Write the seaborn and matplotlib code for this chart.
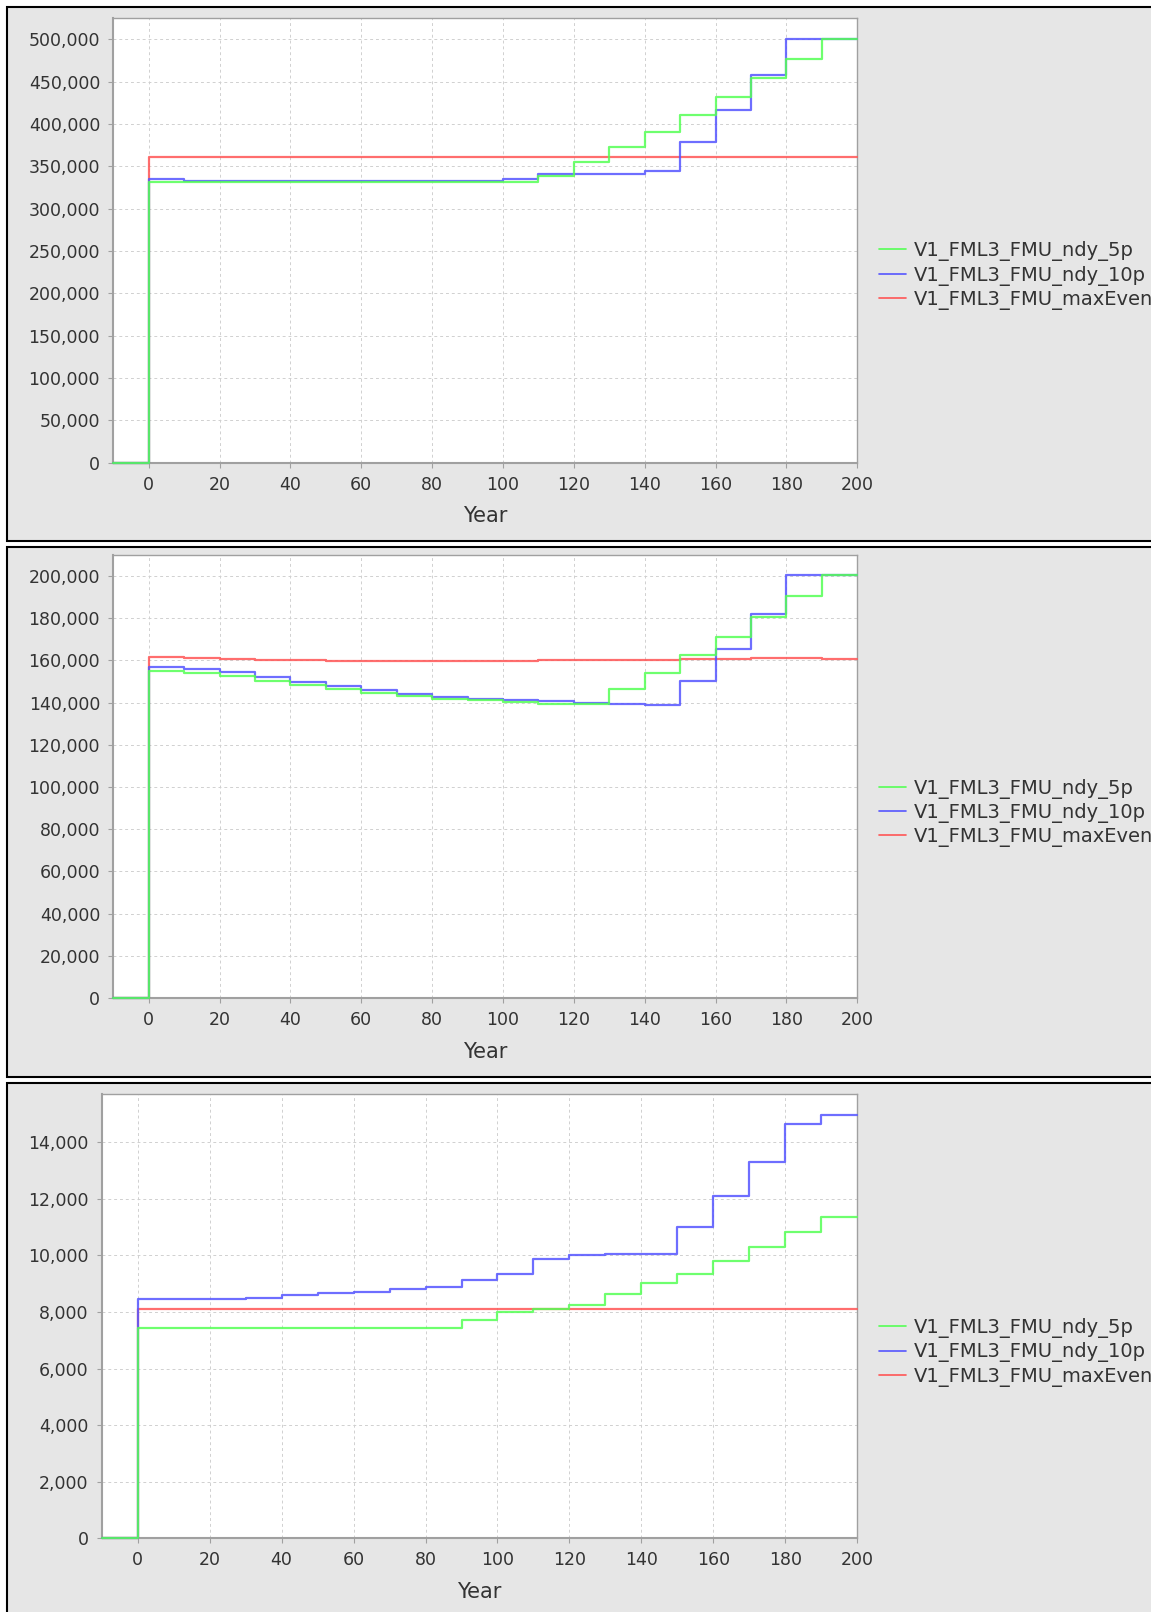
import matplotlib
matplotlib.use("Agg")
import matplotlib.pyplot as plt
import seaborn as sns
import pandas as pd
from matplotlib.patches import Rectangle
from matplotlib.lines import Line2D
from matplotlib.ticker import FuncFormatter, MultipleLocator

# ---- data -------------------------------------------------------------
years = [-10, 0, 10, 20, 30, 40, 50, 60, 70, 80, 90, 100,
         110, 120, 130, 140, 150, 160, 170, 180, 190, 200]

S5 = "V1_FML3_FMU_ndy_5p"
S10 = "V1_FML3_FMU_ndy_10p"
SMAX = "V1_FML3_FMU_maxEven"

# panel 1
p1_5p = [0, 332000, 332000, 332000, 332000, 332000, 332000, 332000, 332000,
         332000, 332000, 332000, 338500, 355000, 373000, 391000, 411000,
         431500, 454000, 477000, 500000, 500000]
p1_10p = [0, 334500, 333000, 333000, 333000, 333000, 333000, 333000, 333000,
          333000, 333000, 335000, 340500, 340500, 340500, 344000, 379000,
          417000, 458500, 501000, 501000, 501000]
p1_max = [0, 361200, 361000, 360800, 360700, 360700, 360800, 360800, 360800,
          360900, 361000, 361000, 361000, 361000, 361000, 361100, 361200,
          361200, 361200, 361200, 360900, 360900]

# panel 2
p2_5p = [0, 154900, 154100, 152500, 150300, 148300, 146400, 144600, 143100,
         141800, 141200, 140200, 139400, 139400, 146400, 154000, 162500,
         171100, 180800, 190500, 200300, 200300]
p2_10p = [0, 156800, 156000, 154400, 152200, 150000, 147900, 146000, 144300,
          142900, 141800, 141200, 140700, 140000, 139400, 139100, 150500,
          165500, 182200, 200500, 200500, 200500]
p2_max = [0, 161500, 161200, 160700, 160300, 160100, 159800, 159800, 159800,
          159800, 159700, 159600, 160000, 160100, 160300, 160400, 160800,
          160900, 161300, 161400, 160600, 160600]

# panel 3
p3_5p = [0, 7430, 7430, 7430, 7430, 7430, 7430, 7430, 7430, 7430, 7720,
         7990, 8090, 8230, 8620, 9010, 9330, 9810, 10300, 10830, 11360, 11360]
p3_10p = [0, 8440, 8450, 8470, 8500, 8580, 8660, 8700, 8800, 8870, 9110,
          9340, 9880, 10000, 10040, 10050, 10990, 12080, 13290, 14630,
          14950, 14950]
p3_max = [0, 8110, 8110, 8110, 8110, 8110, 8110, 8110, 8110, 8110, 8110,
          8110, 8110, 8110, 8110, 8110, 8110, 8110, 8110, 8110, 8110, 8110]

colors = {S5: "#55ff55", S10: "#5555ff", SMAX: "#ff5555"}

# ---- layout (pixels, origin top-left) ---------------------------------
W, H, DPI = 1151, 1612, 100

panels = [
    dict(series=(p1_5p, p1_10p, p1_max), box=(6.7, 7, 1170, 541),
         ax=(113.3, 18.3, 857.3, 462.5), ymax=525000, ystep=50000, leg_y=275.5),
    dict(series=(p2_5p, p2_10p, p2_max), box=(6.7, 547.3, 1170, 1076.7),
         ax=(113.3, 555.0, 857.3, 998.0), ymax=210000, ystep=20000, leg_y=813.0),
    dict(series=(p3_5p, p3_10p, p3_max), box=(6.7, 1083.3, 1170, 1640),
         ax=(101.7, 1094.0, 857.3, 1538.3), ymax=15700, ystep=2000, leg_y=1352.5),
]


def frac_rect(x0, y0, x1, y1):
    return [x0 / W, 1 - y1 / H, (x1 - x0) / W, (y1 - y0) / H]


sns.set_theme(style="white")
plt.rcParams["font.family"] = ["DejaVu Sans"]

fig = plt.figure(figsize=(W / DPI, H / DPI), dpi=DPI, facecolor="white")

text_color = "#333333"
axis_grey = "#a0a0a0"

for p in panels:
    bx0, by0, bx1, by1 = p["box"]
    r = frac_rect(bx0, by0, bx1, by1)
    fig.add_artist(Rectangle((r[0], r[1]), r[2], r[3], transform=fig.transFigure,
                             facecolor="#e6e6e6", edgecolor="black",
                             linewidth=1.5, zorder=0))

    ax = fig.add_axes(frac_rect(*p["ax"]))
    ax.set_facecolor("white")

    s5, s10, smax = p["series"]
    df = pd.DataFrame({
        "Year": years * 3,
        "Value": list(smax) + list(s10) + list(s5),
        "Series": [SMAX] * len(years) + [S10] * len(years) + [S5] * len(years),
    })
    sns.lineplot(data=df, x="Year", y="Value", hue="Series",
                 hue_order=[SMAX, S10, S5], palette=colors,
                 estimator=None, errorbar=None, drawstyle="steps-post",
                 linewidth=1.6, alpha=0.85, legend=False, ax=ax,
                 clip_on=False, zorder=3)

    ax.set_xlim(-10, 200)
    ax.set_ylim(0, p["ymax"])
    ax.xaxis.set_major_locator(MultipleLocator(20))
    ax.yaxis.set_major_locator(MultipleLocator(p["ystep"]))
    ax.yaxis.set_major_formatter(FuncFormatter(lambda v, _: f"{v:,.0f}"))

    ax.grid(True, color="#d0d0d0", linestyle=(0, (3, 3)), linewidth=0.7)
    ax.set_axisbelow(True)
    for sp in ax.spines.values():
        sp.set_color(axis_grey)
        sp.set_linewidth(1.0)
    ax.spines["left"].set_linewidth(1.5)
    ax.spines["bottom"].set_linewidth(1.5)

    ax.tick_params(axis="both", which="major", bottom=True, left=True,
                   direction="out", length=3.5, width=0.8, color=axis_grey,
                   labelsize=12.5, labelcolor=text_color, pad=6)
    ax.set_xlabel("Year", fontsize=15, color=text_color, labelpad=9)
    ax.set_ylabel("")

    handles = [Line2D([], [], color=colors[s], linewidth=1.2) for s in (S5, S10, SMAX)]
    ax.legend(handles, [S5, S10, SMAX], loc="center left",
              bbox_to_anchor=(879 / W, 1 - p["leg_y"] / H),
              bbox_transform=fig.transFigure, frameon=False, fontsize=14,
              handlelength=1.39, handletextpad=0.41, labelspacing=0.22,
              borderpad=0, borderaxespad=0, labelcolor=text_color)

fig.savefig("out.png", dpi=DPI, facecolor="white")
